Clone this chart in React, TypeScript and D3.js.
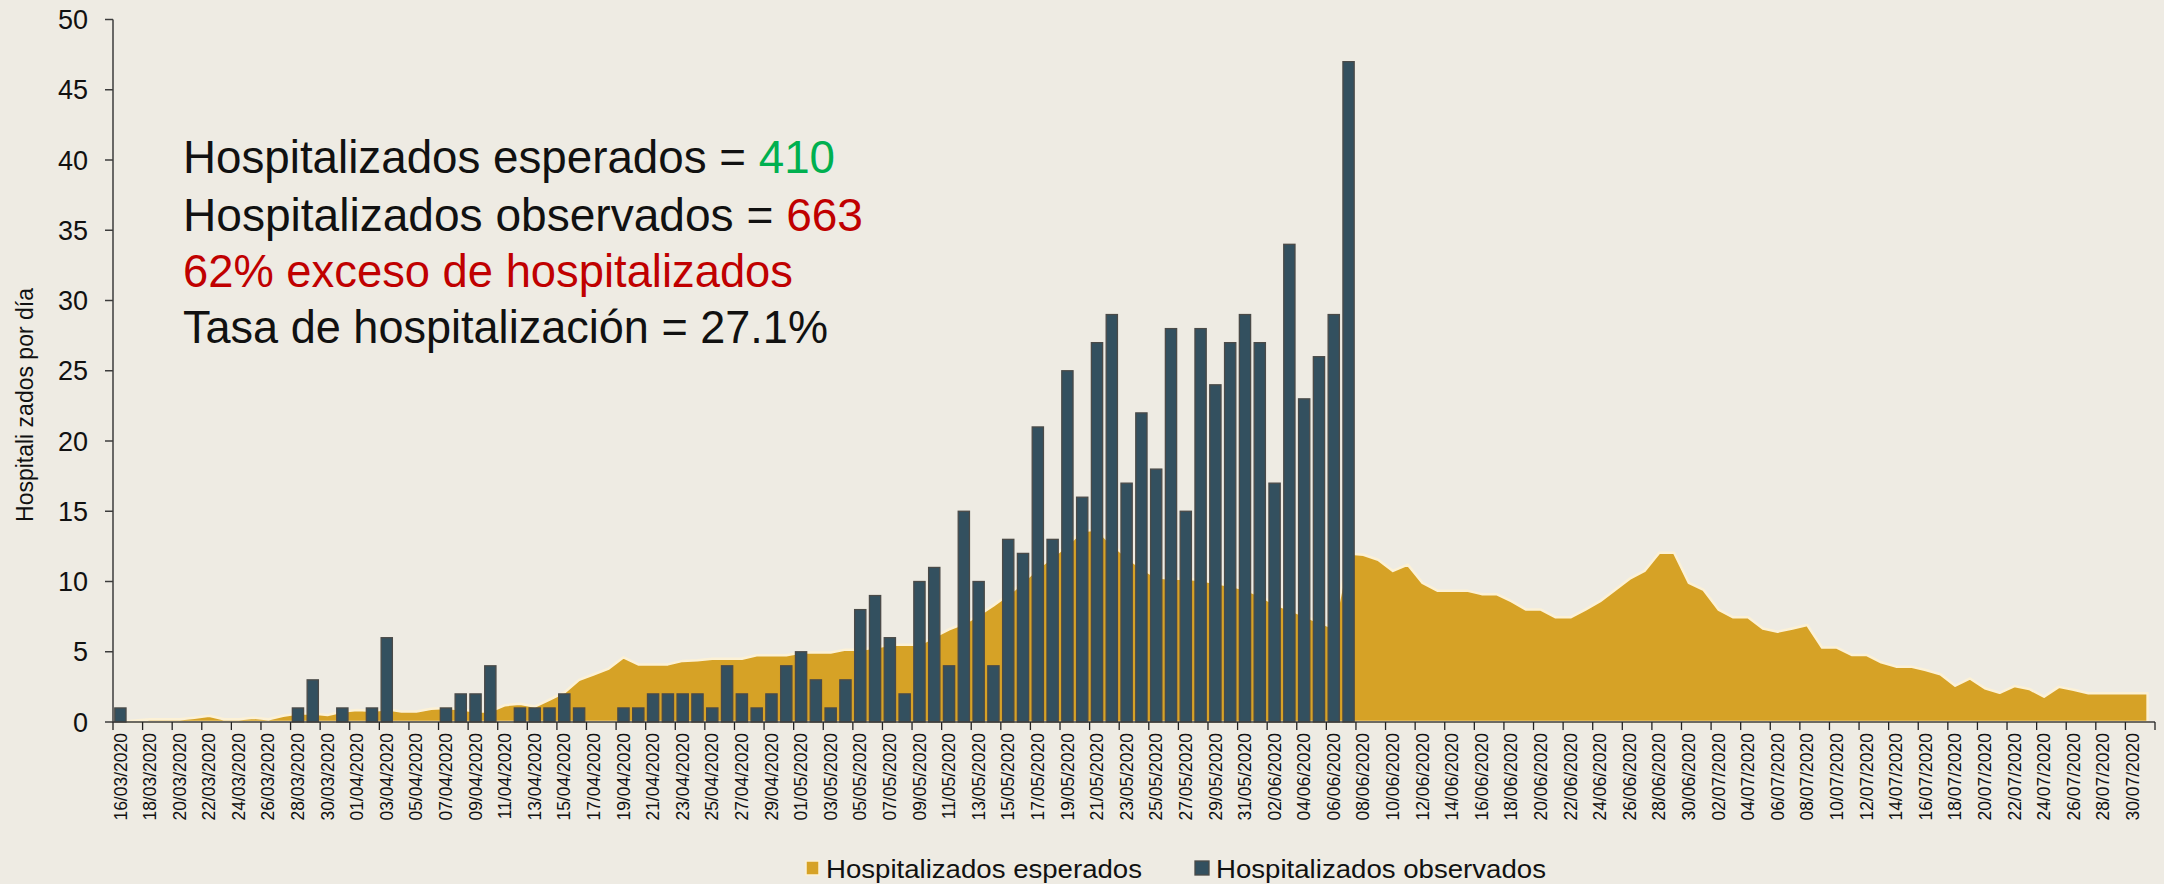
import React, { useEffect } from 'react';
import * as d3 from 'd3';

// fechas 16/03/2020 .. 31/07/2020 (un dato por día)
const fechas: string[] = d3
  .timeDays(new Date(2020, 2, 16), new Date(2020, 7, 1))
  .map(d3.timeFormat('%d/%m/%Y'));

// hospitalizados observados (16/03 .. 07/06)
const observados: number[] = [
  1, 0, 0, 0, 0, 0, 0, 0, 0, 0, 0, 0, 1, 3, 0, 1, 0, 1, 6, 0,
  0, 0, 1, 2, 2, 4, 0, 1, 1, 1, 2, 1, 0, 0, 1, 1, 2, 2, 2, 2,
  1, 4, 2, 1, 2, 4, 5, 3, 1, 3, 8, 9, 6, 2, 10, 11, 4, 15, 10, 4,
  13, 12, 21, 13, 25, 16, 27, 29, 17, 22, 18, 28, 15, 28, 24, 27, 29, 27, 17, 34,
  23, 26, 29, 47,
];

// hospitalizados esperados (16/03 .. 31/07)
const esperados: number[] = [
  0, 0.1, 0.2, 0.2, 0.2, 0.3, 0.45, 0.2, 0.2, 0.3, 0.2, 0.45, 0.6, 0.6, 0.5, 0.75, 0.85, 0.8, 0.9, 0.75,
  0.75, 0.95, 1.0, 0.9, 0.75, 0.75, 1.2, 1.3, 1.1, 1.6, 2.1, 3.0, 3.4, 3.8, 4.6, 4.1, 4.1, 4.1, 4.35, 4.4,
  4.5, 4.5, 4.5, 4.75, 4.75, 4.75, 4.95, 4.95, 4.95, 5.15, 5.15, 5.3, 5.5, 5.5, 5.5, 6.05, 6.6, 7.0, 7.6, 8.3,
  9.05, 9.95, 10.95, 11.75, 12.6, 13.6, 13.7, 12.65, 11.75, 10.95, 10.3, 10.2, 10.2, 10.1, 9.9, 9.7, 9.45, 9.0, 8.4, 8.0,
  7.55, 7.1, 6.7, 12.0, 11.9, 11.55, 10.75, 11.2, 9.9, 9.35, 9.35, 9.35, 9.1, 9.1, 8.6, 8.0, 8.0, 7.45, 7.45, 8.0,
  8.6, 9.4, 10.2, 10.75, 12.05, 12.05, 9.9, 9.4, 8.0, 7.45, 7.45, 6.66, 6.43, 6.66, 6.9, 5.3, 5.3, 4.77, 4.77, 4.25,
  3.94, 3.94, 3.7, 3.4, 2.58, 3.1, 2.4, 2.08, 2.56, 2.35, 1.8, 2.5, 2.3, 2.04, 2.04, 2.04, 2.04, 2.04,
];

const yTicks = [0, 5, 10, 15, 20, 25, 30, 35, 40, 45, 50];

const W = 2164;
const H = 884;
const BG = '#EEEBE3';
const ORO = '#D6A226';
const AZUL = '#33505F';
const FONT = '"Liberation Sans", Arial, sans-serif';

export default function App() {
  useEffect(() => {
    document.body.style.margin = '0';
    document.body.style.background = BG;
  }, []);

  const x = d3.scaleBand<string>().domain(fechas).range([113, 2155]).padding(0);
  const bw = x.bandwidth();
  const y = d3.scaleLinear().domain([0, 50]).range([722, 19.5]);
  const cx = (i: number) => (x(fechas[i]) as number) + bw / 2;

  const area = d3
    .area<number>()
    .x((_, i) => cx(i))
    .y0(y(0))
    .y1(d => y(d));

  const barW = bw * 0.76;

  return (
    <div style={{ position: 'absolute', left: 0, top: 0 }}>
      <svg width={W} height={H} style={{ display: 'block', background: BG }}>
        {/* área esperados */}
        <path d={area(esperados) || ''} fill={ORO} stroke="#FCF1D6" strokeWidth={2.5} strokeLinejoin="round" />

        {/* barras observados */}
        {observados.map((v, i) =>
          v > 0 ? (
            <rect
              key={i}
              x={cx(i) - barW / 2}
              y={y(v)}
              width={barW}
              height={y(0) - y(v)}
              fill={AZUL}
              stroke="#4A4A48"
              strokeWidth={1.3}
            />
          ) : null
        )}

        {/* eje y */}
        <line x1={113} x2={113} y1={y(50)} y2={y(0)} stroke="#3C3C3C" strokeWidth={1.5} />
        {yTicks.map(t => (
          <g key={t}>
            <line x1={105} x2={113} y1={y(t)} y2={y(t)} stroke="#3C3C3C" strokeWidth={1.5} />
            <text x={88} y={y(t)} dy="0.36em" textAnchor="end" fontSize={27} fontFamily={FONT} fill="#111">
              {t}
            </text>
          </g>
        ))}
        <text
          transform="translate(25,405) rotate(-90)"
          dy="0.35em"
          textAnchor="middle"
          fontSize={23}
          fontFamily={FONT}
          fill="#111"
        >
          Hospitali zados por día
        </text>

        {/* eje x */}
        <line x1={113} x2={2155} y1={y(0)} y2={y(0)} stroke="#3C3C3C" strokeWidth={1.5} />
        {fechas.map((f, i) =>
          i % 2 === 0 ? (
            <g key={f}>
              <line x1={x(f) as number} x2={x(f) as number} y1={y(0)} y2={y(0) + 8} stroke="#222" strokeWidth={1.3} />
              <text
                transform={`translate(${cx(i)},${y(0) + 11}) rotate(-90)`}
                dy="0.35em"
                textAnchor="end"
                fontSize={17.5}
                fontFamily={FONT}
                fill="#111"
              >
                {f}
              </text>
            </g>
          ) : null
        )}
        <line x1={2155} x2={2155} y1={y(0)} y2={y(0) + 8} stroke="#222" strokeWidth={1.3} />

        {/* anotaciones */}
        <g fontFamily={FONT} fontSize={46} fill="#111">
          <text x={183} y={173} textLength={652} lengthAdjust="spacingAndGlyphs">
            Hospitalizados esperados = <tspan fill="#00B050">410</tspan>
          </text>
          <text x={183} y={231} textLength={680} lengthAdjust="spacingAndGlyphs">
            Hospitalizados observados = <tspan fill="#C00000">663</tspan>
          </text>
          <text x={183} y={287} fill="#C00000" textLength={610} lengthAdjust="spacingAndGlyphs">
            62% exceso de hospitalizados
          </text>
          <text x={183} y={343} textLength={645} lengthAdjust="spacingAndGlyphs">
            Tasa de hospitalización = 27.1%
          </text>
        </g>

        {/* leyenda */}
        <g fontFamily={FONT} fontSize={26} fill="#111">
          <rect x={806} y={861} width={13} height={14} fill={ORO} stroke="#FCF1D6" strokeWidth={1.5} />
          <text x={826} y={878} textLength={316} lengthAdjust="spacingAndGlyphs">
            Hospitalizados esperados
          </text>
          <rect x={1195} y={861} width={14} height={14} fill={AZUL} stroke="#4A4A48" strokeWidth={1.3} />
          <text x={1216} y={878} textLength={330} lengthAdjust="spacingAndGlyphs">
            Hospitalizados observados
          </text>
        </g>
      </svg>
    </div>
  );
}
